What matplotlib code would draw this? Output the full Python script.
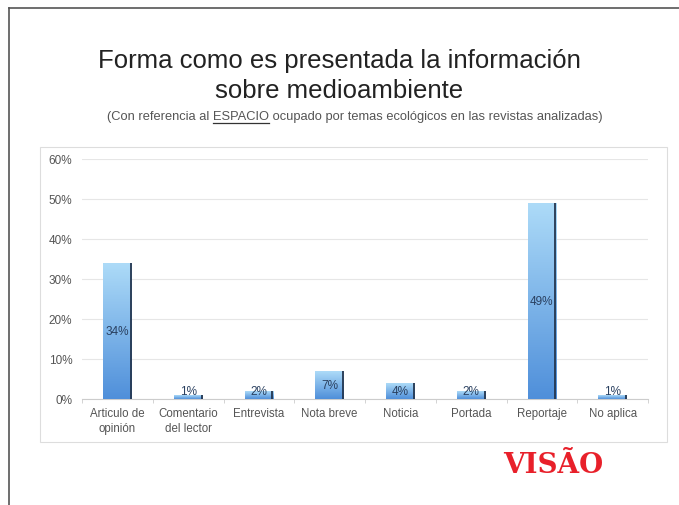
import matplotlib
matplotlib.use("Agg")
import matplotlib.pyplot as plt
import numpy as np
from matplotlib.patches import Rectangle
from matplotlib.lines import Line2D
from matplotlib.colors import LinearSegmentedColormap

categories = ["Articulo de\nopinión", "Comentario\ndel lector", "Entrevista", "Nota breve",
              "Noticia", "Portada", "Reportaje", "No aplica"]
values = [34, 1, 2, 7, 4, 2, 49, 1]
labels = ["34%", "1%", "2%", "7%", "4%", "2%", "49%", "1%"]
yticks = [0, 10, 20, 30, 40, 50, 60]
ytick_labels = ["0%", "10%", "20%", "30%", "40%", "50%", "60%"]

plt.rcParams['font.family'] = ['Liberation Sans', 'DejaVu Sans']

fig = plt.figure(figsize=(6.79, 5.06), dpi=100)
W, H = 679, 506

def fx(px):
    return px / W

def fy(py):
    return 1 - py / H

# outer frame lines
fig.add_artist(Line2D([fx(9), 1.0], [fy(9), fy(9)], color="#555555", lw=1.2))
fig.add_artist(Line2D([fx(9), fx(9)], [fy(9), 0.0], color="#555555", lw=1.2))
# chart box
fig.add_artist(Rectangle((fx(40), fy(443)), fx(667) - fx(40), fy(148) - fy(443),
                         fill=False, edgecolor="#dddddd", lw=0.8))

ax = fig.add_axes([fx(82), fy(400), fx(648) - fx(82), fy(160) - fy(400)])
n = len(categories)
x = np.arange(n)
width = 0.4
ax.set_xlim(-0.5, n - 0.5)
ax.set_ylim(0, 60)

cmap = LinearSegmentedColormap.from_list("g", ["#4f8fda", "#addbf8"])
grad = np.linspace(0, 1, 256).reshape(-1, 1)
bars = ax.bar(x, values, width=width, color="none", edgecolor="none", zorder=3)
for b, v in zip(bars, values):
    x0 = b.get_x()
    im = ax.imshow(grad, cmap=cmap, origin="lower", aspect="auto",
                   extent=[x0, x0 + width, 0, v], zorder=3, interpolation="bicubic")
    im.set_clip_path(b)
    ax.plot([x0 + width - 0.01, x0 + width - 0.01], [0, v], color="#24364f", lw=1.3,
            zorder=4, solid_capstyle="butt")

for xi, v, lab in zip(x, values, labels):
    ypos = max(v / 2, 2.0)
    ax.text(xi, ypos, lab, ha="center", va="center", fontsize=8.5, color="#2a4060", zorder=5)

ax.set_yticks(yticks)
ax.set_yticklabels(ytick_labels)
ax.set_xticks(x)
ax.set_xticklabels(categories)
ax.set_xticks(np.arange(-0.5, n, 1.0), minor=True)
ax.tick_params(axis="x", which="major", length=0, pad=6, labelsize=8.3, colors="#555555")
ax.tick_params(axis="x", which="minor", length=3, color="#cccccc")
ax.tick_params(axis="y", length=0, pad=7, labelsize=8.5, colors="#555555")
for lbl in ax.get_xticklabels():
    lbl.set_linespacing(1.3)
ax.grid(axis="y", color="#e6e6e6", lw=0.8, zorder=0)
for s in ["top", "right", "left"]:
    ax.spines[s].set_visible(False)
ax.spines["bottom"].set_color("#cccccc")
ax.set_axisbelow(True)

# title
fig.text(0.5, fy(76), "Forma como es presentada la información\nsobre medioambiente",
         ha="center", va="center", fontsize=18.5, color="#222222", linespacing=1.3)

# subtitle with underlined word
parts = ["(Con referencia al ", "ESPACIO", " ocupado por temas ecológicos en las revistas analizadas)"]
fs_sub = 9.3
fig.canvas.draw()
renderer = fig.canvas.get_renderer()
widths = []
for p in parts:
    t = fig.text(0, 0, p, fontsize=fs_sub, color="#555555")
    bb = t.get_window_extent(renderer)
    widths.append(bb.width)
    t.remove()
total = sum(widths)
start = 355 - total / 2
ysub = fy(117)
cur = start
for i, (p, w) in enumerate(zip(parts, widths)):
    fig.text(cur / W, ysub, p, fontsize=fs_sub, color="#555555", ha="left", va="center")
    if i == 1:
        fig.add_artist(Line2D([cur / W, (cur + w) / W], [ysub - 7 / H, ysub - 7 / H],
                              color="#333333", lw=0.9))
    cur += w

# logo
fig.text(fx(553), fy(466), "VISÃO", ha="center", va="center", fontsize=20,
         fontweight="heavy", family=["DejaVu Serif"], color="#e8202a")

fig.savefig("out.png", dpi=100)
